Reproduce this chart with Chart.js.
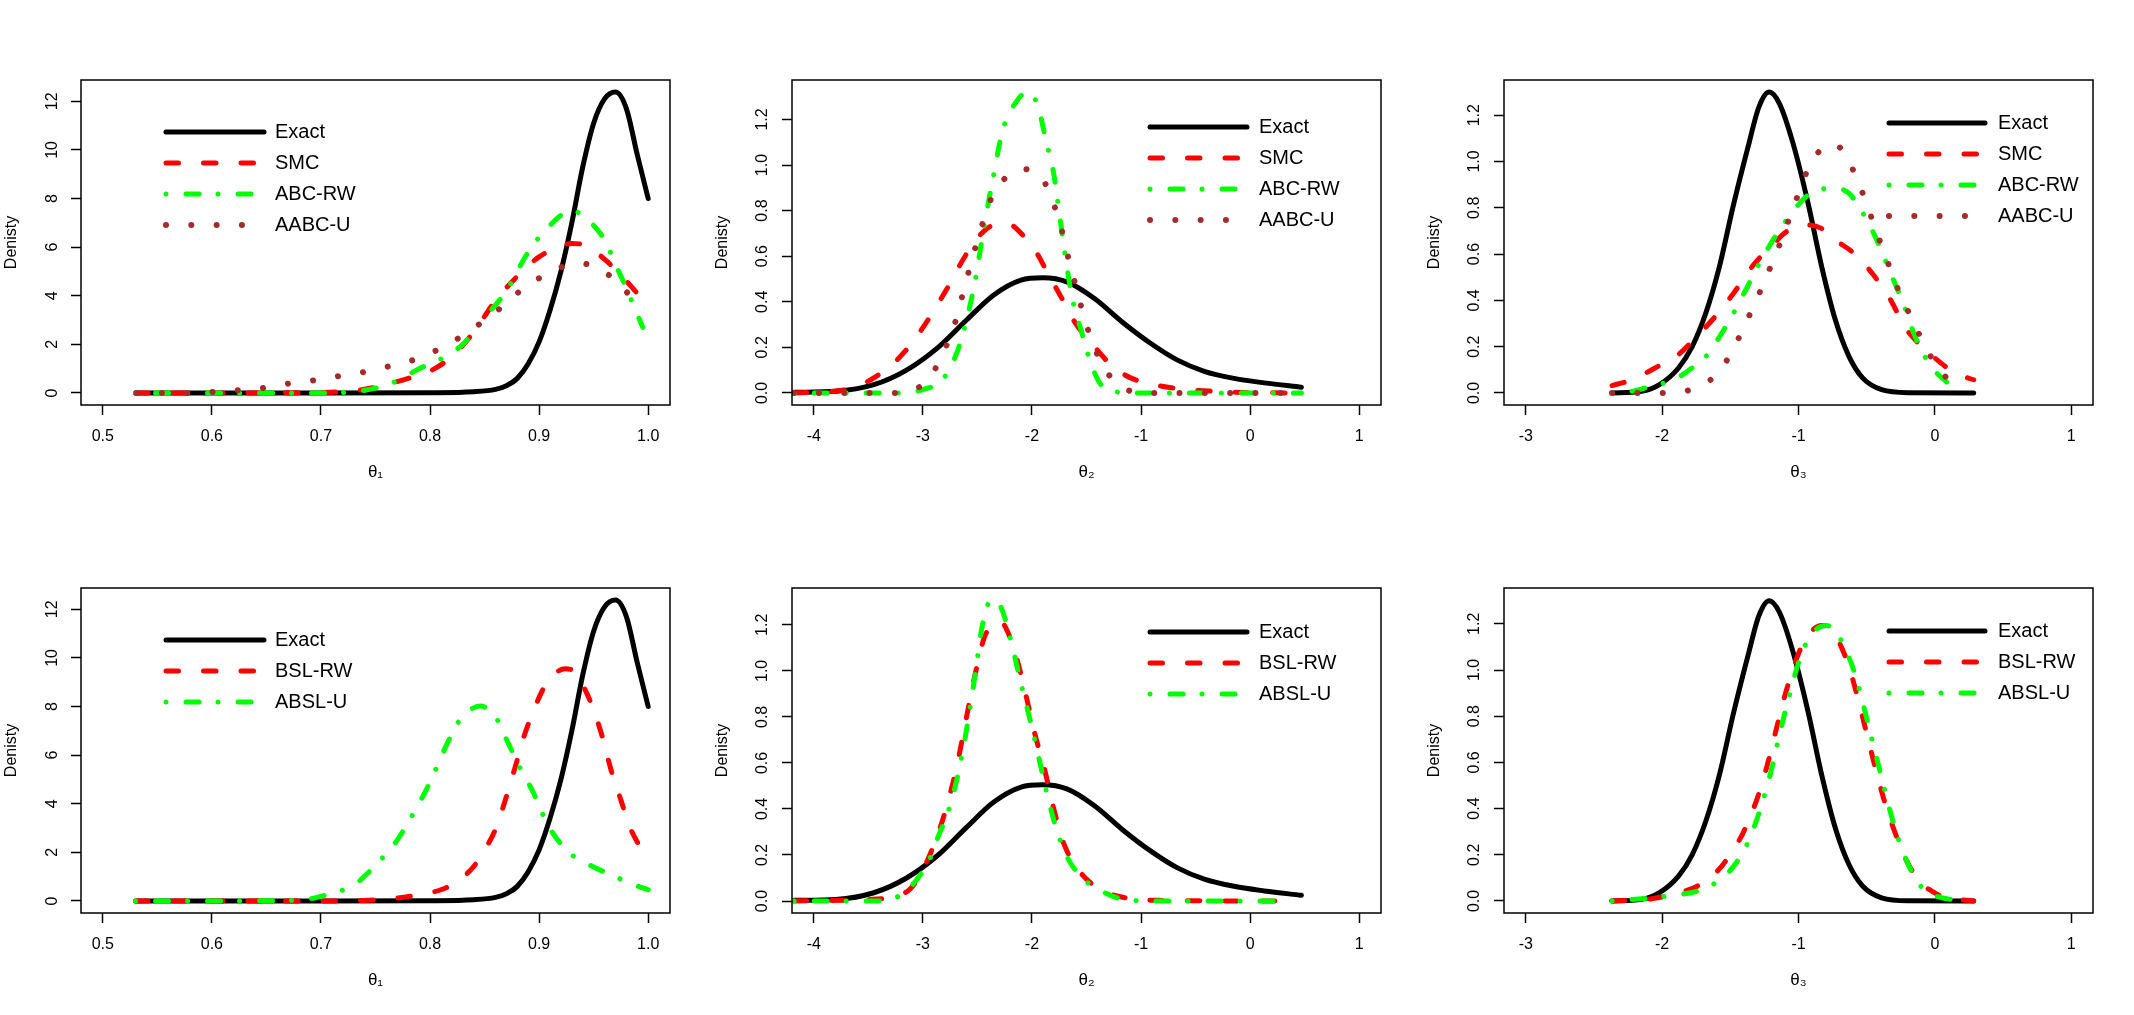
<!DOCTYPE html>
<html><head><meta charset="utf-8">
<script src="https://cdn.jsdelivr.net/npm/chart.js@4.4.1/dist/chart.umd.min.js"></script>
<style>
html,body{margin:0;padding:0;background:#fff;width:2134px;height:1015px;overflow:hidden}
canvas{position:absolute}
</style></head><body>
<canvas id="p1"></canvas><canvas id="p2"></canvas><canvas id="p3"></canvas>
<canvas id="p4"></canvas><canvas id="p5"></canvas><canvas id="p6"></canvas>
<script>
// ---------- tick values & labels ----------
const t1Ticks = [0.5, 0.6, 0.7, 0.8, 0.9, 1.0];
const t1TickLabels = ['0.5', '0.6', '0.7', '0.8', '0.9', '1.0'];
const t2Ticks = [-4, -3, -2, -1, 0, 1];
const t2TickLabels = ['-4', '-3', '-2', '-1', '0', '1'];
const t3Ticks = [-3, -2, -1, 0, 1];
const t3TickLabels = ['-3', '-2', '-1', '0', '1'];
const d1Ticks = [0, 2, 4, 6, 8, 10, 12];
const d1TickLabels = ['0', '2', '4', '6', '8', '10', '12'];
const d2Ticks = [0, 0.2, 0.4, 0.6, 0.8, 1.0, 1.2];
const d2TickLabels = ['0.0', '0.2', '0.4', '0.6', '0.8', '1.0', '1.2'];

// ---------- theta1 ----------
const t1ExactX = [0.53, 0.6, 0.7, 0.8, 0.84, 0.86, 0.87, 0.88, 0.89, 0.90, 0.91, 0.92, 0.93, 0.94, 0.95, 0.96, 0.97, 0.98, 0.99, 1.0];
const t1ExactY = [0, 0, 0, 0.01, 0.05, 0.15, 0.3, 0.6, 1.2, 2.1, 3.4, 5.0, 7.0, 9.3, 11.1, 12.1, 12.38, 11.7, 9.8, 8.0];
const t1SmcX = [0.53, 0.6, 0.7, 0.74, 0.76, 0.78, 0.80, 0.82, 0.84, 0.86, 0.88, 0.90, 0.92, 0.93, 0.94, 0.96, 0.98, 0.992];
const t1SmcY = [0, 0, 0.02, 0.15, 0.35, 0.6, 0.9, 1.5, 2.5, 3.8, 4.8, 5.6, 6.05, 6.15, 6.1, 5.5, 4.6, 4.0];
const t1AbcX = [0.53, 0.6, 0.7, 0.73, 0.75, 0.77, 0.79, 0.81, 0.83, 0.85, 0.87, 0.89, 0.91, 0.93, 0.945, 0.96, 0.97, 0.98, 0.995];
const t1AbcY = [0, 0, 0, 0.05, 0.2, 0.5, 1.0, 1.4, 2.0, 3.1, 4.2, 5.8, 6.9, 7.5, 7.1, 6.3, 5.3, 4.3, 2.7];
const t1AabcX = [0.531, 0.554, 0.577, 0.600, 0.622, 0.646, 0.668, 0.691, 0.713, 0.736, 0.758, 0.781, 0.802, 0.822, 0.842, 0.860, 0.877, 0.896, 0.916, 0.938, 0.959, 0.977, 0.991];
const t1AabcY = [0, 0, 0, 0.04, 0.11, 0.2, 0.37, 0.5, 0.67, 0.83, 1.05, 1.3, 1.67, 2.14, 2.73, 3.32, 4.0, 4.61, 5.1, 5.33, 5.0, 4.32, 3.54];
const t1BslX = [0.53, 0.6, 0.7, 0.74, 0.77, 0.79, 0.81, 0.827, 0.84, 0.852, 0.861, 0.869, 0.878, 0.886, 0.895, 0.903, 0.911, 0.924, 0.933, 0.941, 0.949, 0.958, 0.966, 0.975, 0.983, 0.994];
const t1BslY = [0, 0, 0, 0.02, 0.12, 0.26, 0.46, 0.87, 1.42, 2.24, 3.06, 4.15, 5.5, 6.75, 7.84, 8.66, 9.2, 9.55, 9.42, 8.8, 7.98, 6.75, 5.38, 4.15, 3.06, 2.1];
const t1AbslX = [0.53, 0.6, 0.68, 0.70, 0.72, 0.734, 0.743, 0.755, 0.768, 0.783, 0.798, 0.817, 0.827, 0.838, 0.846, 0.861, 0.869, 0.882, 0.895, 0.903, 0.911, 0.928, 0.949, 0.970, 0.985, 1.0];
const t1AbslY = [0, 0, 0.03, 0.19, 0.45, 0.78, 1.15, 1.7, 2.38, 3.47, 4.7, 6.6, 7.43, 7.9, 8.02, 7.5, 6.75, 5.52, 4.43, 3.6, 2.9, 1.97, 1.42, 1.0, 0.7, 0.46];

// ---------- theta2 ----------
const t2ExactX = [-4.18, -3.8, -3.45, -3.15, -2.86, -2.6, -2.35, -2.1, -1.9, -1.68, -1.43, -1.17, -0.92, -0.67, -0.42, -0.16, 0.13, 0.47];
const t2ExactY = [0.003, 0.007, 0.036, 0.10, 0.20, 0.32, 0.43, 0.495, 0.505, 0.487, 0.415, 0.31, 0.22, 0.145, 0.095, 0.065, 0.044, 0.025];
const t2SmcX = [-4.18, -3.7, -3.36, -3.15, -2.94, -2.77, -2.6, -2.44, -2.3, -2.22, -2.1, -1.97, -1.85, -1.72, -1.6, -1.43, -1.26, -1.09, -0.88, -0.63, -0.33, 0.0, 0.47];
const t2SmcY = [0, 0.015, 0.095, 0.19, 0.33, 0.465, 0.61, 0.71, 0.742, 0.742, 0.70, 0.625, 0.52, 0.41, 0.305, 0.204, 0.116, 0.065, 0.036, 0.017, 0.007, 0.001, 0];
const t2AbcX = [-4.18, -3.2, -3.0, -2.82, -2.69, -2.6, -2.52, -2.44, -2.35, -2.27, -2.14, -2.04, -1.95, -1.87, -1.8, -1.74, -1.68, -1.62, -1.55, -1.47, -1.38, -1.26, -1.05, 0.47];
const t2AbcY = [0, 0, 0.015, 0.058, 0.175, 0.32, 0.495, 0.727, 0.96, 1.15, 1.28, 1.32, 1.265, 1.105, 0.96, 0.756, 0.553, 0.393, 0.276, 0.145, 0.044, 0.007, 0, 0];
const t2AabcX = [-4.185, -3.945, -3.718, -3.486, -3.259, -3.035, -2.888, -2.787, -2.707, -2.648, -2.589, -2.53, -2.463, -2.395, -2.281, -2.088, -1.902, -1.81, -1.738, -1.687, -1.628, -1.57, -1.51, -1.435, -1.338, -1.186, -0.967, -0.744, 0.45];
const t2AabcY = [0, 0, 0, 0, 0, 0.025, 0.105, 0.204, 0.305, 0.41, 0.516, 0.62, 0.727, 0.829, 0.924, 0.982, 0.938, 0.84, 0.735, 0.63, 0.524, 0.417, 0.313, 0.208, 0.109, 0.029, 0, 0, 0];
const t2BslX = [-4.18, -3.58, -3.28, -3.11, -2.985, -2.86, -2.774, -2.69, -2.606, -2.52, -2.437, -2.353, -2.29, -2.227, -2.142, -2.058, -1.974, -1.89, -1.805, -1.72, -1.637, -1.51, -1.342, -1.13, -0.84, 0.4];
const t2BslY = [0, 0.006, 0.017, 0.056, 0.15, 0.294, 0.424, 0.583, 0.785, 0.987, 1.145, 1.203, 1.217, 1.174, 1.059, 0.9, 0.727, 0.583, 0.41, 0.265, 0.179, 0.1, 0.042, 0.013, 0.003, 0];
const t2AbslX = [-4.18, -3.45, -3.2, -3.07, -2.94, -2.86, -2.774, -2.69, -2.606, -2.52, -2.458, -2.395, -2.332, -2.27, -2.185, -2.1, -2.016, -1.932, -1.848, -1.763, -1.679, -1.553, -1.384, -1.174, -0.84, 0.37];
const t2AbslY = [0, 0, 0.027, 0.085, 0.18, 0.28, 0.38, 0.525, 0.727, 0.987, 1.19, 1.297, 1.31, 1.26, 1.116, 0.943, 0.785, 0.612, 0.438, 0.294, 0.193, 0.107, 0.049, 0.009, 0, 0];

// ---------- theta3 ----------
const t3ExactX = [-2.37, -2.15, -2.02, -1.88, -1.78, -1.68, -1.58, -1.48, -1.37, -1.29, -1.215, -1.14, -1.04, -0.93, -0.83, -0.73, -0.63, -0.53, -0.39, -0.19, 0.285];
const t3ExactY = [0, 0.007, 0.036, 0.108, 0.2, 0.345, 0.546, 0.805, 1.063, 1.236, 1.30, 1.25, 1.078, 0.82, 0.546, 0.316, 0.158, 0.065, 0.014, 0.001, 0];
const t3SmcX = [-2.367, -2.221, -2.052, -1.882, -1.747, -1.611, -1.476, -1.34, -1.205, -1.07, -0.934, -0.832, -0.731, -0.595, -0.46, -0.324, -0.223, -0.121, 0.014, 0.15, 0.285];
const t3SmcY = [0.032, 0.057, 0.108, 0.165, 0.244, 0.33, 0.431, 0.546, 0.632, 0.704, 0.726, 0.711, 0.661, 0.604, 0.517, 0.402, 0.287, 0.216, 0.144, 0.086, 0.057];
const t3AbcX = [-2.367, -2.221, -2.086, -1.916, -1.78, -1.679, -1.578, -1.476, -1.374, -1.273, -1.171, -1.07, -0.968, -0.866, -0.731, -0.629, -0.527, -0.426, -0.324, -0.223, -0.155, -0.087, -0.02, 0.082, 0.184];
const t3AbcY = [0, 0.007, 0.029, 0.057, 0.108, 0.158, 0.244, 0.345, 0.46, 0.575, 0.675, 0.762, 0.834, 0.877, 0.884, 0.862, 0.776, 0.661, 0.517, 0.374, 0.259, 0.172, 0.108, 0.05, 0.007];
const t3AabcX = [-2.367, -2.18, -1.997, -1.815, -1.649, -1.53, -1.442, -1.364, -1.29, -1.218, -1.147, -1.083, -1.022, -0.958, -0.876, -0.734, -0.622, -0.548, -0.483, -0.423, -0.358, -0.297, -0.223, -0.145, -0.063, 0.031, 0.163];
const t3AabcY = [0, 0, 0, 0.01, 0.055, 0.137, 0.233, 0.331, 0.427, 0.527, 0.628, 0.729, 0.826, 0.93, 1.025, 1.074, 0.989, 0.891, 0.788, 0.687, 0.586, 0.486, 0.388, 0.29, 0.193, 0.101, 0.026];
const t3BslX = [-2.367, -2.086, -1.882, -1.747, -1.611, -1.51, -1.408, -1.307, -1.239, -1.171, -1.103, -1.036, -0.968, -0.9, -0.832, -0.765, -0.697, -0.629, -0.561, -0.494, -0.426, -0.358, -0.29, -0.223, -0.155, -0.087, -0.02, 0.048, 0.285];
const t3BslY = [0, 0.009, 0.035, 0.063, 0.12, 0.193, 0.293, 0.437, 0.567, 0.725, 0.883, 1.013, 1.114, 1.171, 1.193, 1.178, 1.114, 1.013, 0.869, 0.711, 0.553, 0.409, 0.293, 0.193, 0.12, 0.07, 0.042, 0.02, 0];
const t3AbslX = [-2.367, -2.086, -1.882, -1.747, -1.611, -1.476, -1.374, -1.29, -1.205, -1.137, -1.07, -1.002, -0.934, -0.866, -0.799, -0.731, -0.663, -0.595, -0.527, -0.46, -0.392, -0.324, -0.257, -0.189, -0.121, -0.053, 0.014, 0.15];
const t3AbslY = [0, 0.013, 0.027, 0.042, 0.078, 0.15, 0.25, 0.38, 0.553, 0.725, 0.883, 1.027, 1.128, 1.178, 1.193, 1.171, 1.099, 0.999, 0.855, 0.696, 0.538, 0.38, 0.25, 0.15, 0.078, 0.035, 0.02, 0.003];

// ---------- styles ----------
const FONT = '"Liberation Sans", Arial, Helvetica, sans-serif';
const STY = {
  solid:   { color: '#000000', dash: [], width: 5 },
  dashed:  { color: '#FF0000', dash: [12.5, 25], width: 5 },
  dotdash: { color: '#00FF00', dash: [0.01, 20, 13, 19], width: 5 },
  dotted:  { color: '#A52A2A', dash: [0.01, 25.3], width: 6 }
};

const boxPlugin = {
  id: 'rbox',
  afterDatasetsDraw(chart) {
    const { ctx, chartArea: a } = chart;
    ctx.save();
    ctx.strokeStyle = '#000';
    ctx.lineWidth = 1.5;
    ctx.setLineDash([]);
    ctx.strokeRect(a.left, a.top, a.right - a.left, a.bottom - a.top);
    ctx.restore();
  }
};

const legendPlugin = {
  id: 'rlegend',
  afterDraw(chart, args, opts) {
    const { ctx, chartArea: a } = chart;
    ctx.save();
    chart.data.datasets.forEach((ds, i) => {
      const y = a.top + opts.ly + i * opts.rowH;
      const x0 = a.left + opts.lx;
      ctx.beginPath();
      ctx.strokeStyle = ds.borderColor;
      ctx.lineWidth = ds.borderWidth;
      ctx.lineCap = 'round';
      ctx.setLineDash(ds.borderDash);
      ctx.moveTo(x0, y);
      ctx.lineTo(x0 + opts.len, y);
      ctx.stroke();
      ctx.setLineDash([]);
      ctx.fillStyle = '#000';
      ctx.font = '20px ' + FONT;
      ctx.textAlign = 'left';
      ctx.textBaseline = 'middle';
      ctx.fillText(ds.label, a.left + opts.tx, y);
    });
    ctx.restore();
  }
};

function series(label, xs, ys, sty) {
  return { label, xs, ys, sty };
}

function makePanel(id, left, top, p) {
  const W = 690, H = 435;
  const cv = document.getElementById(id);
  cv.width = W; cv.height = H;
  cv.style.left = left + 'px'; cv.style.top = top + 'px';
  cv.style.width = W + 'px'; cv.style.height = H + 'px';
  const datasets = p.series.map((s, i) => ({
    label: s.label,
    data: s.xs.map((x, k) => ({ x: x, y: s.ys[k] })),
    borderColor: STY[s.sty].color,
    borderWidth: STY[s.sty].width,
    borderDash: STY[s.sty].dash,
    borderCapStyle: 'round',
    borderJoinStyle: 'round',
    pointRadius: 0,
    fill: false,
    cubicInterpolationMode: 'monotone',
    order: -i
  }));
  new Chart(cv, {
    type: 'line',
    data: { datasets },
    plugins: [boxPlugin, legendPlugin],
    options: {
      responsive: false,
      devicePixelRatio: 1,
      animation: false,
      events: [],
      layout: { padding: { top: 30, right: 20, left: 0, bottom: 0 } },
      plugins: {
        legend: { display: false },
        tooltip: { enabled: false },
        title: { display: false },
        rlegend: p.legend
      },
      scales: {
        x: {
          type: 'linear', position: 'bottom',
          min: p.xMin, max: p.xMax,
          afterBuildTicks: s => { s.ticks = p.xTicks.map(v => ({ value: v })); },
          afterFit: s => { s.height = 80; },
          ticks: {
            callback: (v, i) => p.xTickLabels[i],
            font: { size: 16, family: FONT }, color: '#000',
            padding: 12, minRotation: 0, maxRotation: 0, autoSkip: false
          },
          grid: { display: true, drawOnChartArea: false, drawTicks: true, tickLength: 10, tickWidth: 1.5, tickColor: '#000', color: '#000' },
          border: { display: false },
          title: { display: true, text: p.xTitle, color: '#000', font: { size: 17, family: FONT }, padding: { top: 0, bottom: 2 } }
        },
        y: {
          type: 'linear', position: 'left',
          min: p.yMin, max: p.yMax,
          afterBuildTicks: s => { s.ticks = p.yTicks.map(v => ({ value: v })); },
          afterFit: s => { s.width = 81; },
          ticks: {
            callback: (v, i) => p.yTickLabels[i],
            font: { size: 16, family: FONT }, color: '#000',
            padding: p.yPad, minRotation: 90, maxRotation: 90, crossAlign: 'center', autoSkip: false
          },
          grid: { display: true, drawOnChartArea: false, drawTicks: true, tickLength: 10, tickWidth: 1.5, tickColor: '#000', color: '#000' },
          border: { display: false },
          title: { display: true, text: 'Denisty', color: '#000', font: { size: 16, family: FONT }, padding: 2 }
        }
      }
    }
  });
}

const COLS = [0, 711, 1423];
const ROWS = [50, 558];

makePanel('p1', COLS[0], ROWS[0], {
  xMin: 0.48, xMax: 1.02, yMin: -0.495, yMax: 12.875,
  xTicks: t1Ticks, xTickLabels: t1TickLabels, yTicks: d1Ticks, yTickLabels: d1TickLabels,
  xTitle: 'θ₁', yPad: 10,
  legend: { lx: 85, ly: 52, len: 98, tx: 194, rowH: 31 },
  series: [
    series('Exact', t1ExactX, t1ExactY, 'solid'),
    series('SMC', t1SmcX, t1SmcY, 'dashed'),
    series('ABC-RW', t1AbcX, t1AbcY, 'dotdash'),
    series('AABC-U', t1AabcX, t1AabcY, 'dotted')
  ]
});
makePanel('p2', COLS[1], ROWS[0], {
  xMin: -4.2, xMax: 1.2, yMin: -0.053, yMax: 1.373,
  xTicks: t2Ticks, xTickLabels: t2TickLabels, yTicks: d2Ticks, yTickLabels: d2TickLabels,
  xTitle: 'θ₂', yPad: 8,
  legend: { lx: 358, ly: 47, len: 97, tx: 467, rowH: 31 },
  series: [
    series('Exact', t2ExactX, t2ExactY, 'solid'),
    series('SMC', t2SmcX, t2SmcY, 'dashed'),
    series('ABC-RW', t2AbcX, t2AbcY, 'dotdash'),
    series('AABC-U', t2AabcX, t2AabcY, 'dotted')
  ]
});
makePanel('p3', COLS[2], ROWS[0], {
  xMin: -3.16, xMax: 1.16, yMin: -0.052, yMax: 1.352,
  xTicks: t3Ticks, xTickLabels: t3TickLabels, yTicks: d2Ticks, yTickLabels: d2TickLabels,
  xTitle: 'θ₃', yPad: 8,
  legend: { lx: 385, ly: 43, len: 96, tx: 494, rowH: 31 },
  series: [
    series('Exact', t3ExactX, t3ExactY, 'solid'),
    series('SMC', t3SmcX, t3SmcY, 'dashed'),
    series('ABC-RW', t3AbcX, t3AbcY, 'dotdash'),
    series('AABC-U', t3AabcX, t3AabcY, 'dotted')
  ]
});
makePanel('p4', COLS[0], ROWS[1], {
  xMin: 0.48, xMax: 1.02, yMin: -0.495, yMax: 12.875,
  xTicks: t1Ticks, xTickLabels: t1TickLabels, yTicks: d1Ticks, yTickLabels: d1TickLabels,
  xTitle: 'θ₁', yPad: 10,
  legend: { lx: 85, ly: 52, len: 98, tx: 194, rowH: 31 },
  series: [
    series('Exact', t1ExactX, t1ExactY, 'solid'),
    series('BSL-RW', t1BslX, t1BslY, 'dashed'),
    series('ABSL-U', t1AbslX, t1AbslY, 'dotdash')
  ]
});
makePanel('p5', COLS[1], ROWS[1], {
  xMin: -4.2, xMax: 1.2, yMin: -0.052, yMax: 1.36,
  xTicks: t2Ticks, xTickLabels: t2TickLabels, yTicks: d2Ticks, yTickLabels: d2TickLabels,
  xTitle: 'θ₂', yPad: 8,
  legend: { lx: 358, ly: 44, len: 97, tx: 467, rowH: 31 },
  series: [
    series('Exact', t2ExactX, t2ExactY, 'solid'),
    series('BSL-RW', t2BslX, t2BslY, 'dashed'),
    series('ABSL-U', t2AbslX, t2AbslY, 'dotdash')
  ]
});
makePanel('p6', COLS[2], ROWS[1], {
  xMin: -3.16, xMax: 1.16, yMin: -0.052, yMax: 1.355,
  xTicks: t3Ticks, xTickLabels: t3TickLabels, yTicks: d2Ticks, yTickLabels: d2TickLabels,
  xTitle: 'θ₃', yPad: 8,
  legend: { lx: 385, ly: 43, len: 96, tx: 494, rowH: 31 },
  series: [
    series('Exact', t3ExactX, t3ExactY, 'solid'),
    series('BSL-RW', t3BslX, t3BslY, 'dashed'),
    series('ABSL-U', t3AbslX, t3AbslY, 'dotdash')
  ]
});
</script>
</body></html>
